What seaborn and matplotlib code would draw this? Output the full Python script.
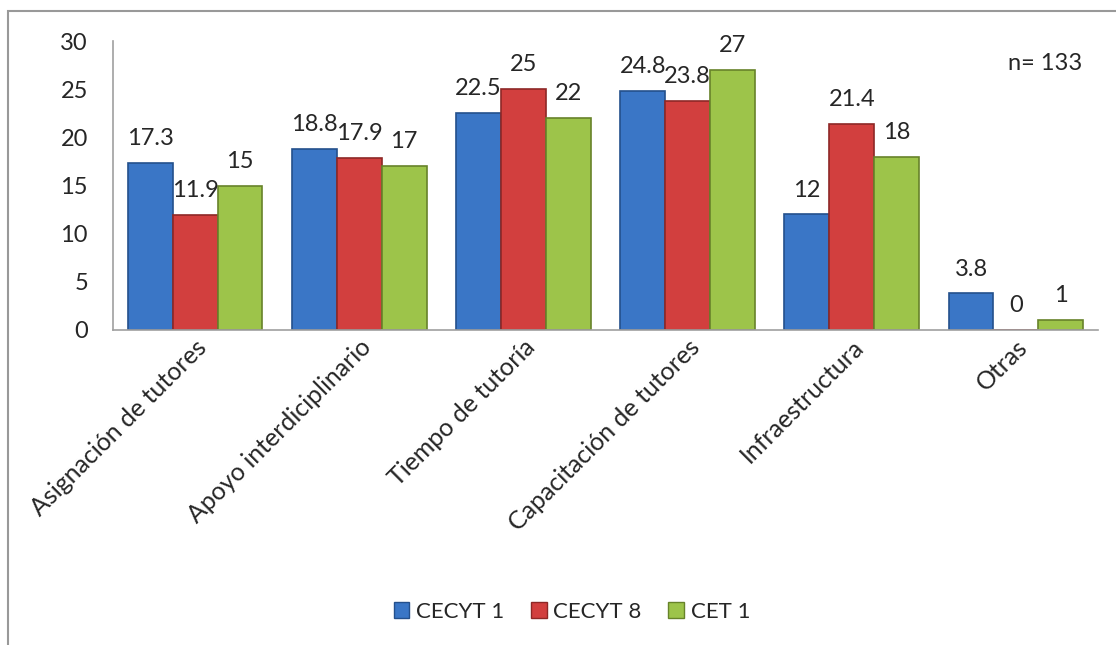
import numpy as np
import pandas as pd
import matplotlib
matplotlib.use('Agg')
import matplotlib.pyplot as plt
import seaborn as sns
from matplotlib.patches import Rectangle

# ─── Data ───────────────────────────────────────────────────────────────────
categorias = ['Asignación de tutores', 'Apoyo interdiciplinario', 'Tiempo de tutoría',
              'Capacitación de tutores', 'Infraestructura', 'Otras']
series = ['CECYT 1', 'CECYT 8', 'CET 1']
cecyt1 = [17.3, 18.8, 22.5, 24.8, 12, 3.8]
cecyt8 = [11.9, 17.9, 25, 23.8, 21.4, 0]
cet1 = [15, 17, 22, 27, 18, 1]
etiquetas = {
    'CECYT 1': ['17.3', '18.8', '22.5', '24.8', '12', '3.8'],
    'CECYT 8': ['11.9', '17.9', '25', '23.8', '21.4', '0'],
    'CET 1': ['15', '17', '22', '27', '18', '1'],
}

df = pd.DataFrame({
    'categoria': categorias * 3,
    'serie': [s for s in series for _ in categorias],
    'valor': cecyt1 + cecyt8 + cet1,
})

colores = {'CECYT 1': '#3a76c6', 'CECYT 8': '#d23f3e', 'CET 1': '#9dc44a'}
bordes = {'CECYT 1': '#24508c', 'CECYT 8': '#8e2826', 'CET 1': '#67832a'}

# ─── Plot ───────────────────────────────────────────────────────────────────
sns.set_style('white')
plt.rcParams['font.family'] = ['Lato', 'DejaVu Sans']
FS = 17

fig = plt.figure(figsize=(11.16, 6.45), dpi=100)
ax = fig.add_axes([113 / 1116, 1 - 330 / 645, (1098 - 113) / 1116, (330 - 41) / 645])

sns.barplot(data=df, x='categoria', y='valor', hue='serie', hue_order=series,
            palette=colores, saturation=1, width=0.82, gap=0, ax=ax, legend=False,
            edgecolor='none', linewidth=0)

# darker edge per series + value labels
for cont, s in zip(ax.containers, series):
    for bar in cont:
        bar.set_edgecolor(bordes[s])
        bar.set_linewidth(1.2)
    ax.bar_label(cont, labels=etiquetas[s], padding=10, fontsize=FS)

ax.set_ylim(0, 30)
ax.set_yticks(range(0, 31, 5))
ax.set_xlim(-0.5, len(categorias) - 0.5)
ax.set_xlabel('')
ax.set_ylabel('')
ax.tick_params(axis='y', labelsize=FS, length=0, pad=18)
ax.tick_params(axis='x', labelsize=18, length=0, pad=4)
plt.setp(ax.get_xticklabels(), rotation=45, ha='right', rotation_mode='anchor')

for side in ['top', 'right']:
    ax.spines[side].set_visible(False)
for side in ['left', 'bottom']:
    ax.spines[side].set_color('#a0a0a0')
    ax.spines[side].set_linewidth(1.2)

fig.text(1045 / 1116, 1 - 63 / 645, 'n= 133', fontsize=FS, ha='center', va='center')

# legend
handles = [Rectangle((0, 0), 1, 1, facecolor=colores[s], edgecolor=bordes[s]) for s in series]
fig.legend(handles, series, loc='center', bbox_to_anchor=(572 / 1116, 1 - 612 / 645),
           ncol=3, frameon=False, fontsize=16, handlelength=0.7, handleheight=0.7,
           handletextpad=0.3, columnspacing=1.2)

# outer chart border
fig.add_artist(Rectangle((8 / 1116, -0.1), 1.2, 1.1 - 11 / 645, transform=fig.transFigure,
                         fill=False, edgecolor='#999999', linewidth=1.5))

fig.savefig('out.png', dpi=100)
